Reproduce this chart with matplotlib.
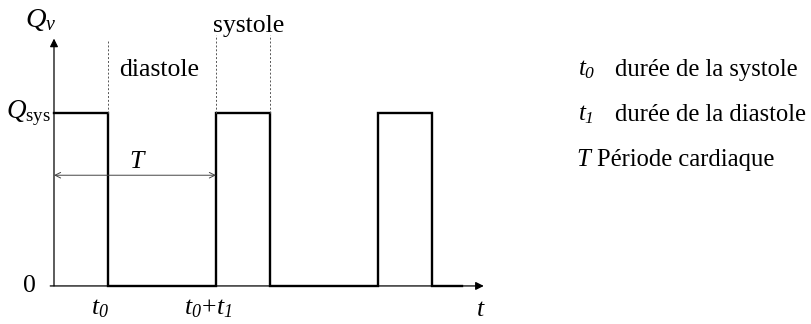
import matplotlib.pyplot as plt

plt.rcParams['font.family'] = 'Liberation Serif'
plt.rcParams['mathtext.fontset'] = 'custom'
plt.rcParams['mathtext.rm'] = 'Liberation Serif'
plt.rcParams['mathtext.it'] = 'Liberation Serif:italic'
# italic digits for subscripts (the 'it' slot forces digits upright)
plt.rcParams['mathtext.cal'] = 'Liberation Serif:italic'

# flow signal: time breakpoints (t0 = 1, t1 = 2, T = 3) and levels
t_pts = [0, 1, 1, 3, 3, 4, 4, 6, 6, 7, 7, 7.55]
q_pts = [1, 1, 0, 0, 1, 1, 0, 0, 1, 1, 0, 0]
q_sys = 1.0
t0 = 1.0
t1 = 2.0
T = t0 + t1

legend_syms = [r'$t_\mathcal{0}$', r'$t_\mathcal{1}$', r'$T$']
legend_txt = ['durée de la systole', 'durée de la diastole', 'Période cardiaque']

fig = plt.figure(figsize=(8.11, 3.24), dpi=100)
ax = fig.add_axes([0, 0, 1, 1])
ax.set_xlim(-1.0, 14.02)
ax.set_ylim(-0.22, 1.653)
ax.axis('off')

fs = 18

# axes with arrows
ax.annotate('', xy=(0, 1.43), xytext=(0, -0.0),
            arrowprops=dict(arrowstyle='-|>', lw=0.9, color='k',
                            mutation_scale=12, shrinkA=0, shrinkB=0))
ax.annotate('', xy=(7.96, 0), xytext=(-0.07, 0),
            arrowprops=dict(arrowstyle='-|>', lw=0.9, color='k',
                            mutation_scale=12, shrinkA=0, shrinkB=0))

ax.plot(t_pts, q_pts, color='k', lw=1.7, solid_joinstyle='miter')

# dashed guides
ax.plot([t0, t0], [q_sys, 1.42], ls=(0, (2, 2)), color='#555555', lw=0.7)
ax.plot([T, T], [q_sys, 1.45], ls=(0, (2, 2)), color='#555555', lw=0.7)
ax.plot([T + t0, T + t0], [q_sys, 1.45], ls=(0, (2, 2)), color='#555555', lw=0.7)

# period arrow
ax.annotate('', xy=(T, 0.64), xytext=(0, 0.64),
            arrowprops=dict(arrowstyle='<->', lw=0.7, color='#444444',
                            mutation_scale=10, shrinkA=0, shrinkB=0))
ax.text(1.55, 0.715, r'$T$', fontsize=fs + 0.5, ha='center', va='center')

ax.text(1.2, 1.25, 'diastole', fontsize=fs + 0.5, ha='left', va='center')
ax.text(3.6, 1.5, 'systole', fontsize=fs + 0.5, ha='center', va='center')

ax.text(-0.24, 1.54, r'$Q_v$', fontsize=fs + 2.5, ha='center', va='center')
ax.text(-0.06, 1.0, r'$Q_{\rm sys}$', fontsize=fs + 1.5, ha='right', va='center')
ax.text(-0.45, 0.0, '0', fontsize=fs + 0.5, ha='center', va='center')
ax.text(t0 - 0.15, -0.13, r'$t_\mathcal{0}$', fontsize=fs + 0.5,
        ha='center', va='center')
ax.text(T - 0.15, -0.13, r'$t_\mathcal{0}\!+\!t_\mathcal{1}$', fontsize=fs + 0.5,
        ha='center', va='center')
ax.text(7.9, -0.14, r'$t$', fontsize=fs + 0.5, ha='center', va='center')

# legend block
for i, (s, txt) in enumerate(zip(legend_syms, legend_txt)):
    y = 1.25 - i * 0.262
    ax.text(9.7 if i < 2 else 9.67, y, s, fontsize=fs, ha='left', va='center')
    ax.text(10.39 if i < 2 else 10.05, y, txt, fontsize=fs - 0.3, ha='left', va='center')

fig.savefig('out.png', dpi=100)
